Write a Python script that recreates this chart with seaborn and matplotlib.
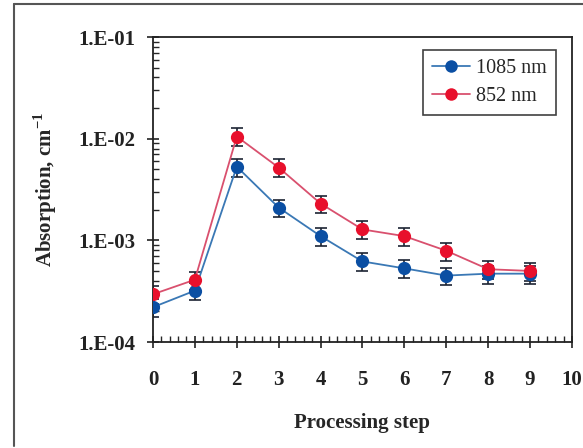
import numpy as np
import matplotlib
matplotlib.use("Agg")
import matplotlib.pyplot as plt
import matplotlib.ticker as mticker
import seaborn as sns
import pandas as pd

steps = [0, 1, 2, 3, 4, 5, 6, 7, 8, 9]
abs_1085 = [2.2e-4, 3.2e-4, 5.3e-3, 2.1e-3, 1.1e-3, 6.2e-4, 5.3e-4, 4.5e-4, 4.7e-4, 4.7e-4]
abs_852 = [2.95e-4, 4.1e-4, 1.05e-2, 5.2e-3, 2.3e-3, 1.28e-3, 1.1e-3, 7.9e-4, 5.2e-4, 5.0e-4]
rel_err = 0.2

sns.set_style("ticks")
plt.rcParams["font.family"] = ["Liberation Serif", "DejaVu Serif"]
plt.rcParams["mathtext.fontset"] = "custom"
plt.rcParams["mathtext.rm"] = "Liberation Serif"
plt.rcParams["mathtext.bf"] = "Liberation Serif:bold"

df = pd.DataFrame({
    "step": steps * 2,
    "absorption": abs_1085 + abs_852,
    "series": ["1085 nm"] * len(steps) + ["852 nm"] * len(steps),
})

fig = plt.figure(figsize=(5.83, 4.48), dpi=100)
ax = fig.add_axes([0.2624, 0.2366, 0.7187, 0.6808])

# outer frame of the original figure
fig.add_artist(plt.Line2D([14 / 583, 14 / 583], [2 / 448, 444 / 448], color="#555555", lw=1.5))
fig.add_artist(plt.Line2D([14 / 583, 1.0], [444 / 448, 444 / 448], color="#555555", lw=1.5))

line_cols = {"1085 nm": "#3a78b5", "852 nm": "#d9506e"}
mark_cols = {"1085 nm": "#0b4fa3", "852 nm": "#e8102c"}

for name, vals in [("1085 nm", abs_1085), ("852 nm", abs_852)]:
    v = np.array(vals)
    ax.errorbar(steps, v, yerr=v * rel_err, fmt="none", ecolor="#1c2433",
                elinewidth=1.2, capsize=4, capthick=1.2, zorder=2)

sns.lineplot(data=df, x="step", y="absorption", hue="series",
             palette=line_cols, marker="o", markersize=9.5, linewidth=1.3,
             markeredgewidth=0, ax=ax, legend=False, zorder=3)
for coll_line, name in zip(ax.lines[-2:], ["1085 nm", "852 nm"]):
    coll_line.set_markerfacecolor(mark_cols[name])

ax.set_yscale("log")
ax.set_ylim(1e-4, 1e-1)
ax.set_xlim(0, 10)
ax.set_xticks(range(11))
ax.xaxis.set_minor_locator(mticker.MultipleLocator(0.2))
ax.yaxis.set_major_locator(mticker.FixedLocator([1e-4, 1e-3, 1e-2, 1e-1]))
ax.yaxis.set_major_formatter(mticker.FixedFormatter(["1.E-04", "1.E-03", "1.E-02", "1.E-01"]))
ax.yaxis.set_minor_locator(mticker.LogLocator(base=10, subs=np.arange(2, 10)))
ax.yaxis.set_minor_formatter(mticker.NullFormatter())

ax.tick_params(axis="both", which="major", direction="inout", length=9, width=1.2,
               labelsize=15, colors="#222222")
ax.tick_params(axis="x", which="major", pad=16)
ax.tick_params(axis="y", which="major", pad=8)
ax.tick_params(axis="both", which="minor", direction="in", length=4, width=1)
for lab in ax.get_xticklabels() + ax.get_yticklabels():
    lab.set_fontweight("bold")
for sp in ax.spines.values():
    sp.set_linewidth(1.3)
    sp.set_color("#222222")

ax.set_xlabel("Processing step", fontsize=15, fontweight="bold", labelpad=16)
ax.set_ylabel("Absorption, cm$^{\\mathbf{-1}}$", fontsize=15, fontweight="bold", labelpad=14)

handles = [plt.Line2D([], [], color=line_cols[n], marker="o", markersize=9,
                      markerfacecolor=mark_cols[n], markeredgewidth=0, lw=1.3)
           for n in ["1085 nm", "852 nm"]]
leg = ax.legend(handles, ["1085 nm", "852 nm"], loc="upper right",
                bbox_to_anchor=(0.962, 0.958), fontsize=14.5, frameon=True,
                fancybox=False, edgecolor="#111111", handlelength=1.9,
                borderpad=0.45, labelspacing=0.45, handletextpad=0.3,
                borderaxespad=0)
leg.get_frame().set_linewidth(1.2)

fig.savefig("out.png", dpi=100)
